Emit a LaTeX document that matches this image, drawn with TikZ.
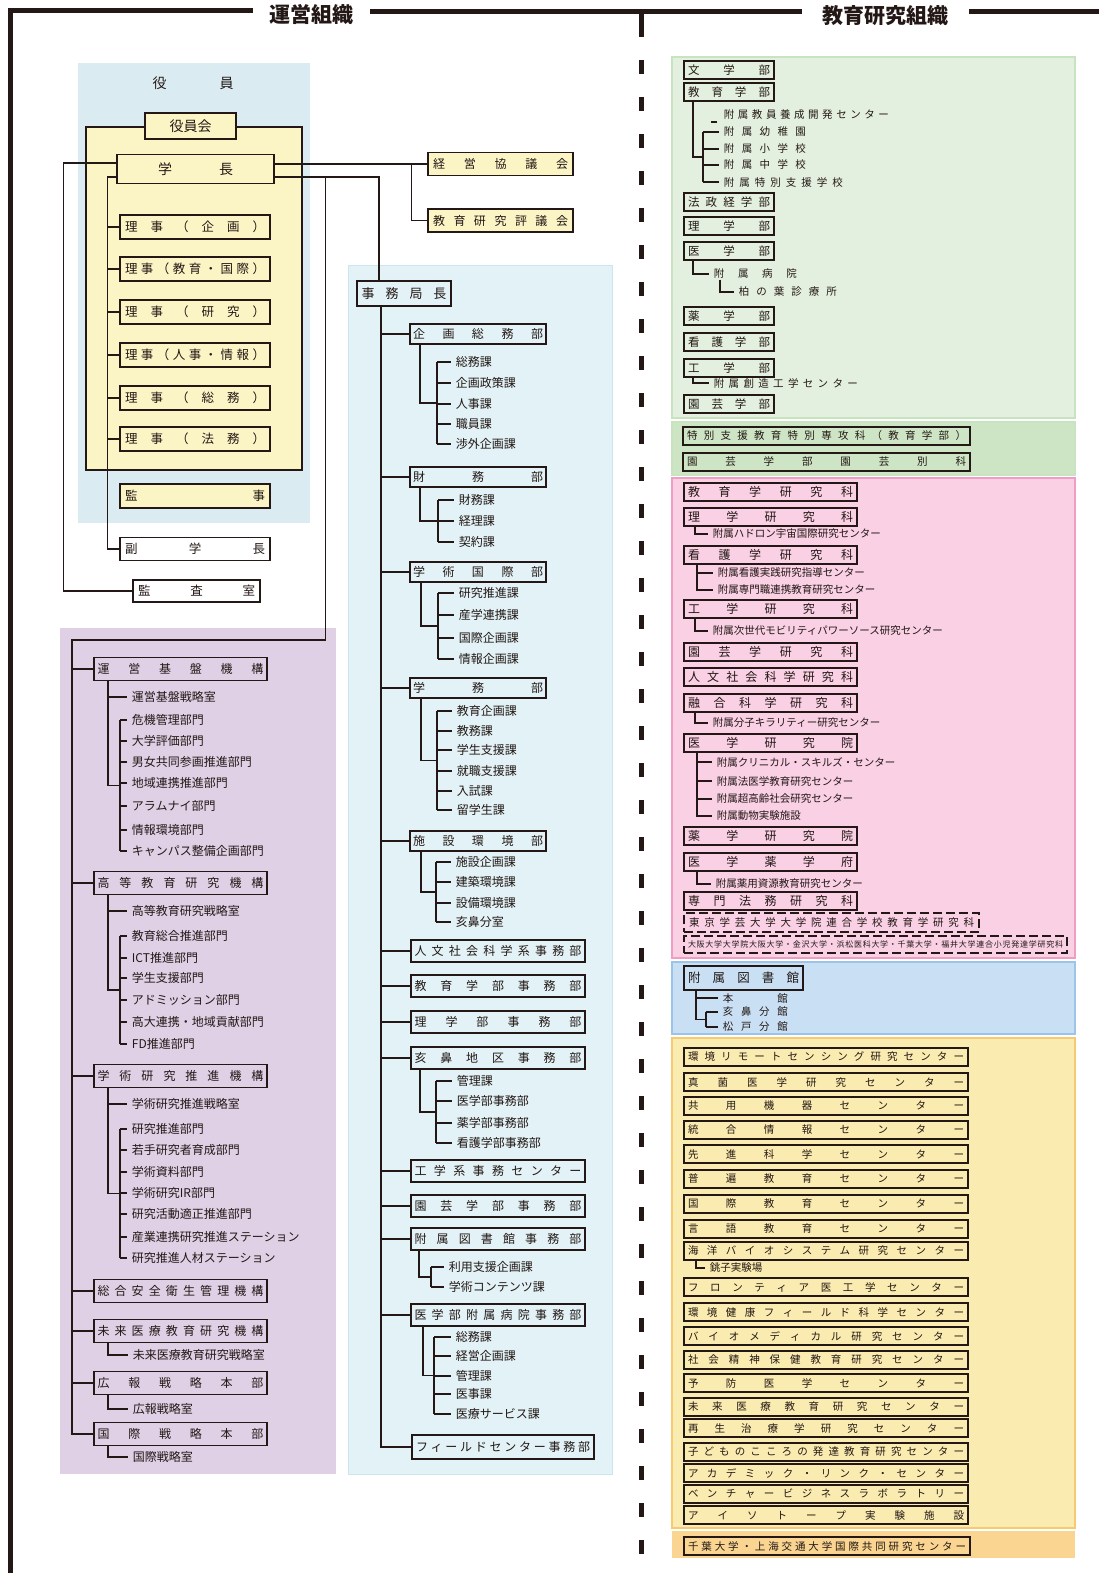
\documentclass[tikz,border=0pt]{standalone}
\usepackage{fontspec}
\setmainfont{Noto Sans CJK JP}
\IfFontExistsTF{Noto Sans CJK JP Black}{\newfontfamily\heavy{Noto Sans CJK JP Black}}{\newfontfamily\heavy[FakeBold=1.5]{Noto Sans CJK JP}}
\usetikzlibrary{calc}
\definecolor{ink}{HTML}{231815}
\definecolor{skyA}{HTML}{DAEBF1}
\definecolor{cream}{HTML}{FBF5C6}
\definecolor{skyB}{HTML}{E2F2F6}
\definecolor{skyBline}{HTML}{CBE6EC}
\definecolor{lilac}{HTML}{E0D0E6}
\definecolor{leafA}{HTML}{E4F0DF}
\definecolor{leafAline}{HTML}{C8E3C0}
\definecolor{leafB}{HTML}{CDE5C5}
\definecolor{rose}{HTML}{F9D0E4}
\definecolor{roseline}{HTML}{EE9DC3}
\definecolor{libsky}{HTML}{C9E0F4}
\definecolor{libline}{HTML}{9CC4E8}
\definecolor{sand}{HTML}{FAEBB0}
\definecolor{sandline}{HTML}{F6CA72}
\definecolor{apricot}{HTML}{F9D591}

\ExplSyntaxOn
\NewDocumentCommand\spr{mm}{\hbox~to~#1{\exp_args:No\tl_map_inline:nn{#2}{##1\hfil}\unskip}}
\ExplSyntaxOff

% box, item prefix, count, offset of stem, offset of bracket
\newcommand\bracketlist[5]{%
  \coordinate (gv) at ($(#2-1.west)+(-#4,0)$);
  \coordinate (gt) at ($(#2-1.west)+(-#5,0)$);
  \coordinate (gb) at ($(#2-#3.west)+(-#5,0)$);
  \draw (#1.south -| gv) |- ($(gt)!.5!(gb)$);
  \draw (gt) -- (gb);
  \foreach \k in {1,...,#3} \draw ([xshift=-#5pt]#2-\k.west) -- ([xshift=-4pt]#2-\k.west);
}
% box, item prefix, count, offset of stem
\newcommand\rakelist[4]{%
  \coordinate (gv) at ($(#2-1.west)+(-#4,0)$);
  \draw (#1.south -| gv) |- ([xshift=-4pt]#2-#3.west);
  \foreach \k in {1,...,#3} \draw ([xshift=-#4pt]#2-\k.west) -- ([xshift=-4pt]#2-\k.west);
}

\begin{document}
\begin{tikzpicture}[x=1pt, y=-1pt, color=ink, line width=1.8pt,
  yb/.style={draw, fill=cream, line width=1.3pt, inner sep=0pt, font=\fontsize{12.5}{12.5}\selectfont},
  pb/.style={draw, line width=1.8pt, inner sep=0pt, minimum width=173pt, minimum height=23pt, font=\fontsize{12}{12}\selectfont},
  mb/.style={draw, line width=1.8pt, inner sep=0pt, minimum height=20pt, font=\fontsize{12}{12}\selectfont},
  rb/.style={draw, line width=1.8pt, inner sep=0pt, minimum height=18pt, font=\fontsize{11.5}{11.5}\selectfont},
  it/.style={anchor=west, inner sep=0pt, font=\fontsize{12}{12}\selectfont},
  its/.style={anchor=west, inner sep=0pt, font=\fontsize{10.5}{10.5}\selectfont},
  ttl/.style={font=\fontsize{21}{21}\heavy}]
\useasboundingbox (0,0) rectangle (1099,1573);

% frame and titles
\draw[line width=5pt] (10,1573) -- (10,11) -- (253,11);
\draw[line width=5pt] (370,12) -- (802,12);
\draw[line width=5pt] (969,12) -- (1099,12);
\node[ttl] (unei) at (311,15) {運営組織};
\node[ttl] (kyoiku) at (885,16) {教育研究組織};
\draw[line width=5pt] (641,12) -- (641,37);
\draw[line width=5pt, dash pattern=on 14pt off 23pt] (641,60) -- (641,1573);

% officers
\fill[skyA] (78,63) rectangle (310,523);
\draw[fill=cream, line width=1.5pt] (86,127) rectangle (302,470);
\node[font=\fontsize{14}{14}\selectfont] (yakuin) at (193,83) {\spr{81pt}{役員}};
\node[yb, line width=1.5pt, minimum width=91pt, minimum height=26pt, font=\fontsize{14}{14}\selectfont] (yakuinkai) at (190.5,126) {役員会};
\node[yb, line width=1.5pt, minimum width=157pt, minimum height=29pt, font=\fontsize{14}{14}\selectfont] (gakucho) at (195.5,169) {\spr{75pt}{学長}};
\foreach \y/\nm [count=\i] in {227/理事（企画）,269/理事（教育・国際）,312/理事（研究）,355/理事（人事・情報）,398/理事（総務）,439/理事（法務）}
  \node[yb, minimum width=150pt, minimum height=24pt] (riji\i) at (195,\y) {\spr{140pt}{\nm}};
\node[yb, minimum width=150pt, minimum height=24pt] (kanji) at (195,496) {\spr{140pt}{監事}};
\node[yb, fill=white, minimum width=150pt, minimum height=23pt] (fuku) at (195,549) {\spr{140pt}{副学長}};
\node[yb, fill=white, minimum width=127pt, minimum height=22pt] (kansa) at (196.5,591) {\spr{117pt}{監査室}};
\node[yb, minimum width=145pt, minimum height=23pt, font=\fontsize{12}{12}\selectfont] (keiei) at (500.5,164) {\spr{135pt}{経営協議会}};
\node[yb, minimum width=145pt, minimum height=23pt, font=\fontsize{12}{12}\selectfont] (hyogi) at (500.5,220.5) {\spr{135pt}{教育研究評議会}};

\begin{scope}[line width=1.2pt]
\draw ([yshift=6pt]gakucho.west) -- ++(-53,0) |- (kansa.west);
\draw ([yshift=-8pt]gakucho.west) -- ++(-9,0) |- (fuku.west);
\foreach \i in {1,...,6} \draw (riji\i.west) -- ++(-12,0);
\draw ([yshift=5pt]gakucho.east) -- (keiei.west);
\draw ([xshift=-16pt]keiei.west) |- (hyogi.west);
\end{scope}

% organizations (purple)
\fill[lilac] (60,628) rectangle (336,1474);
\foreach \y/\nm [count=\i] in {669/運営基盤機構,883/高等教育研究機構,1076/学術研究推進機構,1291/総合安全衛生管理機構,1331/未来医療教育研究機構,1383/広報戦略本部,1434/国際戦略本部}
  \node[pb] (k\i) at (180.5,\y) {\spr{166pt}{\nm}};
\draw[line width=1.3pt] ([yshift=-8pt]gakucho.east) ++(51,0) -- ++(0,463) -| ([xshift=-21pt]k7.west) -- (k7.west);
\foreach \i in {1,...,6} \draw[line width=1.5pt] (k\i.west) -- ++(-21,0);

\node[it] (pa-0) at (131,697) {運営基盤戦略室};
\foreach \y/\nm [count=\i] in {720/危機管理部門,741/大学評価部門,762/男女共同参画推進部門,783/地域連携推進部門,806/アラムナイ部門,830/情報環境部門,851/キャンパス整備企画部門}
  \node[it] (pa-\i) at (131,\y) {\nm};
\node[it] (pb-0) at (131,911) {高等教育研究戦略室};
\foreach \y/\nm [count=\i] in {936/教育総合推進部門,958/ICT推進部門,978/学生支援部門,1000/アドミッション部門,1022/高大連携・地域貢献部門,1044/FD推進部門}
  \node[it] (pb-\i) at (131,\y) {\nm};
\node[it] (pc-0) at (131,1104) {学術研究推進戦略室};
\foreach \y/\nm [count=\i] in {1129/研究推進部門,1150/若手研究者育成部門,1172/学術資料部門,1193/学術研究IR部門,1214/研究活動適正推進部門,1237/産業連携研究推進ステーション,1258/研究推進人材ステーション}
  \node[it] (pc-\i) at (131,\y) {\nm};
\node[it] (pd-1) at (132,1355) {未来医療教育研究戦略室};
\node[it] (pe-1) at (132,1409) {広報戦略室};
\node[it] (pf-1) at (132,1457) {国際戦略室};

\begin{scope}[line width=1.5pt]
\bracketlist{k1}{pa}{7}{23}{11}
\draw (pa-0.west -| gv) -- ([xshift=-4pt]pa-0.west);
\bracketlist{k2}{pb}{6}{23}{11}
\draw (pb-0.west -| gv) -- ([xshift=-4pt]pb-0.west);
\bracketlist{k3}{pc}{7}{23}{11}
\draw (pc-0.west -| gv) -- ([xshift=-4pt]pc-0.west);
\rakelist{k5}{pd}{1}{24}
\rakelist{k6}{pe}{1}{24}
\rakelist{k7}{pf}{1}{24}
\end{scope}

% secretariat
\draw[skyBline, fill=skyB, line width=1pt] (348,265) rectangle (612,1474);
\node[mb, minimum width=94pt, minimum height=25pt, font=\fontsize{13}{13}\selectfont] (jimu) at (404,293.5) {\spr{85pt}{事務局長}};
\draw[line width=1.2pt] ([yshift=-8pt]gakucho.east) -| ([xshift=-25pt]jimu.north);
\foreach \y/\nm [count=\i] in {334/企画総務部,477/財務部,572/学術国際部,688/学務部,841/施設環境部}
  \node[mb, minimum width=136pt] (b\i) at (478,\y) {\spr{130pt}{\nm}};
\foreach \y/\nm [count=\i from 6] in {951/人文社会科学系事務部,986/教育学部事務部,1022/理学部事務部,1058/亥鼻地区事務部,1171/工学系事務センター,1206/園芸学部事務部,1239/附属図書館事務部,1315/医学部附属病院事務部}
  \node[mb, minimum width=174pt, minimum height=22pt] (b\i) at (498,\y) {\spr{167pt}{\nm}};
\node[mb, minimum width=182pt, minimum height=24pt] (b14) at (503,1447) {\spr{174pt}{フィールドセンター事務部}};
\coordinate (mv) at (381,300);
\draw ([xshift=-23pt]jimu.south) |- (b14.west);
\foreach \i in {1,...,13} \draw (b\i.west) -- (b\i.west -| mv);

\foreach \y/\nm [count=\i] in {362/総務課,383/企画政策課,404/人事課,424/職員課,444/渉外企画課}
  \node[it] (ka-\i) at (455,\y) {\nm};
\foreach \y/\nm [count=\i] in {500/財務課,521/経理課,542/契約課}
  \node[it] (za-\i) at (458,\y) {\nm};
\foreach \y/\nm [count=\i] in {593/研究推進課,615/産学連携課,638/国際企画課,659/情報企画課}
  \node[it] (ga-\i) at (458,\y) {\nm};
\foreach \y/\nm [count=\i] in {711/教育企画課,731/教務課,750/学生支援課,771/就職支援課,791/入試課,810/留学生課}
  \node[it] (gm-\i) at (456,\y) {\nm};
\foreach \y/\nm [count=\i] in {862/施設企画課,882/建築環境課,903/設備環境課,922/亥鼻分室}
  \node[it] (sh-\i) at (455,\y) {\nm};
\foreach \y/\nm [count=\i] in {1081/管理課,1101/医学部事務部,1123/薬学部事務部,1143/看護学部事務部}
  \node[it] (in-\i) at (456,\y) {\nm};
\foreach \y/\nm [count=\i] in {1267/利用支援企画課,1287/学術コンテンツ課}
  \node[it] (to-\i) at (448,\y) {\nm};
\foreach \y/\nm [count=\i] in {1337/総務課,1356/経営企画課,1376/管理課,1394/医事課,1414/医療サービス課}
  \node[it] (by-\i) at (455,\y) {\nm};
\bracketlist{b1}{ka}{5}{35}{18}
\bracketlist{b2}{za}{3}{38}{20}
\bracketlist{b3}{ga}{4}{37}{20}
\bracketlist{b4}{gm}{6}{35}{19}
\bracketlist{b5}{sh}{4}{34}{19}
\bracketlist{b9}{in}{4}{36}{20}
\bracketlist{b12}{to}{2}{29}{17}
\bracketlist{b13}{by}{5}{32}{21}

% faculties
\draw[leafAline, fill=leafA, line width=1.5pt] (672,57) rectangle (1075,418);
\foreach \y/\nm [count=\i] in {70/文学部,92/教育学部,202/法政経学部,226/理学部,251/医学部,316/薬学部,342/看護学部,368/工学部,404/園芸学部}
  \node[rb, minimum width=90pt] (f\i) at (729,\y) {\spr{82pt}{\nm}};
\node[its] (ed-0) at (723,115) {\spr{165pt}{附属教員養成開発センター}};
\foreach \y/\w/\nm [count=\i] in {132/82/附属幼稚園,149/82/附属小学校,165/82/附属中学校,182/119/附属特別支援学校}
  \node[its] (ed-\i) at (723,\y) {\spr{\w pt}{\nm}};
\node[its] (md-1) at (713,274) {\spr{83pt}{附属病院}};
\node[its] (mk-1) at (738,292) {\spr{98pt}{柏の葉診療所}};
\node[its] (ko-1) at (713,383) {\spr{144pt}{附属創造工学センター}};
\bracketlist{f2}{ed}{4}{30}{20}
\draw ([xshift=-6pt, yshift=-7pt]ed-0.west) -- ++(-6,0);
\rakelist{f5}{md}{1}{20}
\rakelist{md-1}{mk}{1}{18}
\rakelist{f8}{ko}{1}{20}

\draw[leafAline, fill=leafB, line width=1.5pt] (672,422) rectangle (1075,475);
\node[rb, minimum width=287pt, font=\fontsize{10.5}{10.5}\selectfont] (tokubetsu) at (826.5,436) {\spr{279pt}{特別支援教育特別専攻科（教育学部）}};
\node[rb, minimum width=287pt, font=\fontsize{10.5}{10.5}\selectfont] (bekka) at (826.5,462) {\spr{279pt}{園芸学部園芸別科}};

% graduate schools
\draw[roseline, fill=rose, line width=1.5pt] (672,478) rectangle (1075,958);
\foreach \y/\nm [count=\i] in {492/教育学研究科,517/理学研究科,555/看護学研究科,609/工学研究科,652/園芸学研究科,677/人文社会科学研究科,703/融合科学研究科,743/医学研究院,836/薬学研究院,862/医学薬学府,901/専門法務研究科}
  \node[rb, minimum width=173pt, font=\fontsize{12}{12}\selectfont] (p\i) at (770.5,\y) {\spr{165pt}{\nm}};
\node[its] (ph-1) at (712,534) {附属ハドロン宇宙国際研究センター};
\node[its] (pn-1) at (717,573) {附属看護実践研究指導センター};
\node[its] (pn-2) at (717,590) {附属専門職連携教育研究センター};
\node[its] (pk-1) at (712,631) {附属次世代モビリティパワーソース研究センター};
\node[its] (py-1) at (712,723) {附属分子キラリティー研究センター};
\foreach \y/\nm [count=\i] in {762/附属クリニカル・スキルズ・センター,781/附属法医学教育研究センター,799/附属超高齢社会研究センター,816/附属動物実験施設}
  \node[its] (pm-\i) at (716,\y) {\nm};
\node[its] (pr-1) at (715,884) {附属薬用資源教育研究センター};
\rakelist{p2}{ph}{1}{17}
\rakelist{p3}{pn}{2}{20}
\rakelist{p4}{pk}{1}{17}
\rakelist{p7}{py}{1}{17}
\rakelist{p8}{pm}{4}{19}
\rakelist{p10}{pr}{1}{18}
\node[rb, dash pattern=on 9pt off 4pt, minimum width=295pt, minimum height=19pt, font=\fontsize{10.5}{10.5}\selectfont] (gakugei) at (831.5,922.5) {\spr{285pt}{東京学芸大学大学院連合学校教育学研究科}};
\node[rb, dash pattern=on 9pt off 4pt, minimum width=383pt, minimum height=17pt, font=\fontsize{8}{8}\selectfont] (rengo) at (875.5,944.5) {\spr{375pt}{大阪大学大学院大阪大学・金沢大学・浜松医科大学・千葉大学・福井大学連合小児発達学研究科}};

% library
\draw[libline, fill=libsky, line width=1.5pt] (672,962) rectangle (1075,1034);
\node[rb, minimum width=119pt, minimum height=24pt, font=\fontsize{12.5}{12.5}\selectfont] (lib) at (743.5,978) {\spr{111pt}{附属図書館}};
\node[its] (lb-0) at (722,998) {\spr{65pt}{本館}};
\node[its] (lb-1) at (722,1012) {\spr{65pt}{亥鼻分館}};
\node[its] (lb-2) at (722,1027) {\spr{65pt}{松戸分館}};
\bracketlist{lib}{lb}{2}{26}{16}
\draw (lb-0.west -| gv) -- ([xshift=-4pt]lb-0.west);

% centers
\draw[sandline, fill=sand, line width=1.5pt] (672,1038) rectangle (1075,1528);
\foreach \y/\nm [count=\i] in {1057/環境リモートセンシング研究センター,1082/真菌医学研究センター,1106/共用機器センター,1130/統合情報センター,1154/先進科学センター,1179/普遍教育センター,1204/国際教育センター,1229/言語教育センター,1251/海洋バイオシステム研究センター,1287/フロンティア医工学センター,1312/環境健康フィールド科学センター,1336/バイオメディカル研究センター,1360/社会精神保健教育研究センター,1383/予防医学センター,1407/未来医療教育研究センター,1428/再生治療学研究センター,1452/子どものこころの発達教育研究センター,1473/アカデミック・リンク・センター,1494/ベンチャービジネスラボラトリー,1515/アイソトープ実験施設}
  \node[rb, minimum width=284pt, font=\fontsize{10.5}{10.5}\selectfont] (o\i) at (826,\y) {\spr{276pt}{\nm}};
\node[its] (os-1) at (709,1268) {銚子実験場};
\rakelist{o9}{os}{1}{13}
\fill[apricot] (672,1531) rectangle (1075,1558);
\node[rb, minimum width=286pt, font=\fontsize{10.5}{10.5}\selectfont] (shanghai) at (827,1546) {\spr{278pt}{千葉大学・上海交通大学国際共同研究センター}};
\end{tikzpicture}
\end{document}
